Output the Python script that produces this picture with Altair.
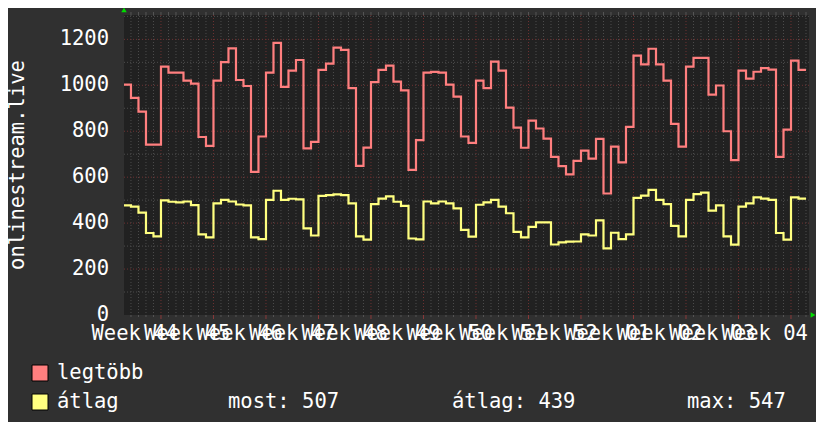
import altair as alt
import pandas as pd

# day index relative to Monday of ISO week 44 (one value per day)
first_day = -5
legtobb = [1003, 945, 885, 742, 742, 1081, 1055, 1055, 1020, 1007, 775, 736, 1020, 1101,
           1161, 1023, 997, 623, 777, 1055, 1185, 993, 1064, 1110, 725, 754, 1067, 1094,
           1164, 1154, 988, 649, 729, 1014, 1067, 1086, 1016, 978, 632, 761, 1055, 1058,
           1055, 1003, 951, 777, 749, 1020, 988, 1103, 1064, 903, 816, 728, 846, 812,
           768, 688, 648, 612, 671, 716, 681, 767, 529, 733, 664, 819, 1129, 1091,
           1159, 1091, 1020, 832, 733, 1081, 1119, 1119, 959, 999, 800, 674, 1064, 1029,
           1059, 1075, 1068, 688, 807, 1107, 1067]
atlag = [477, 472, 446, 357, 342, 499, 493, 490, 494, 478, 351, 338, 486, 501,
         494, 481, 477, 338, 330, 501, 541, 501, 506, 503, 377, 346, 519, 522,
         525, 522, 486, 342, 328, 483, 507, 516, 493, 475, 333, 329, 494, 486,
         494, 486, 464, 371, 341, 480, 490, 501, 472, 443, 362, 338, 384, 403,
         403, 307, 316, 319, 320, 351, 346, 412, 290, 358, 330, 351, 510, 520,
         545, 501, 483, 388, 342, 501, 526, 533, 454, 477, 342, 306, 472, 486,
         512, 507, 501, 357, 328, 512, 507]
week_labels = ["Week 44", "Week 45", "Week 46", "Week 47", "Week 48", "Week 49", "Week 50",
               "Week 51", "Week 52", "Week 01", "Week 02", "Week 03", "Week 04"]
y_ticks = [0, 200, 400, 600, 800, 1000, 1200]
legend_names = ["legtöbb", "átlag"]
legend_colors = ["#ff7f7f", "#ffff80"]
stat_texts = ["most: 507", "átlag: 439", "max: 547"]
y_title = "onlinestream.live"

FONT = "DejaVu Sans Mono"
FS = 20.5
TXT = "#ffffff"
XDOM = [-4.93, 86.4]
YDOM = [0, 1306]
xs = alt.Scale(domain=XDOM, nice=False, zero=False)
ys = alt.Scale(domain=YDOM, nice=False, zero=False)
ONE = pd.DataFrame({"a": [0]})


def series_df(vals):
    n = len(vals)
    d = list(range(first_day, first_day + n)) + [first_day + n]
    v = list(vals) + [vals[-1]]
    return pd.DataFrame({"day": d, "v": v})


ndays = len(legtobb)
last = first_day + ndays
minor_days = [d for d in range(first_day + 1, last + 1) if d % 7 != 0]
major_days = [d for d in range(0, last + 1, 7)]
minor_h = [v for v in range(100, 1400, 200)]
major_h = [v for v in range(200, 1300, 200)]

grid_minor_v = alt.Chart(pd.DataFrame({"day": minor_days})).mark_rule(
    color="#4c4c4c", strokeDash=[1, 2], strokeWidth=1
).encode(x=alt.X("day:Q", scale=xs, axis=None))
grid_major_v = alt.Chart(pd.DataFrame({"day": major_days})).mark_rule(
    color="#6e3232", strokeDash=[1, 2], strokeWidth=1
).encode(x=alt.X("day:Q", scale=xs, axis=None))
grid_minor_h = alt.Chart(pd.DataFrame({"v": minor_h})).mark_rule(
    color="#4c4c4c", strokeDash=[1, 2], strokeWidth=1
).encode(y=alt.Y("v:Q", scale=ys, axis=None))
grid_major_h = alt.Chart(pd.DataFrame({"v": major_h})).mark_rule(
    color="#6e3232", strokeDash=[1, 2], strokeWidth=1
).encode(y=alt.Y("v:Q", scale=ys, axis=None))

tick_top = alt.Chart(pd.DataFrame({"day": minor_days + major_days})).mark_rule(
    color="#555555", strokeWidth=1
).encode(x=alt.X("day:Q", scale=xs, axis=None), y=alt.value(-3), y2=alt.value(0))
tick_bot_minor = alt.Chart(pd.DataFrame({"day": minor_days})).mark_rule(
    color="#555555", strokeWidth=1
).encode(x=alt.X("day:Q", scale=xs, axis=None), y=alt.value(300), y2=alt.value(302))
tick_bot_major = alt.Chart(pd.DataFrame({"day": major_days})).mark_rule(
    color="#8a3a3a", strokeWidth=1
).encode(x=alt.X("day:Q", scale=xs, axis=None), y=alt.value(300), y2=alt.value(304))

line_red = alt.Chart(series_df(legtobb)).mark_line(
    color=legend_colors[0], strokeWidth=2.2, interpolate="step-after", clip=True
).encode(x=alt.X("day:Q", scale=xs, axis=None), y=alt.Y("v:Q", scale=ys, axis=None))
line_yel = alt.Chart(series_df(atlag)).mark_line(
    color=legend_colors[1], strokeWidth=2.2, interpolate="step-after", clip=True
).encode(x=alt.X("day:Q", scale=xs, axis=None), y=alt.Y("v:Q", scale=ys, axis=None))

ylab = alt.Chart(pd.DataFrame({"v": y_ticks, "t": [str(v) for v in y_ticks]})).mark_text(
    font=FONT, fontSize=FS, color=TXT, align="right", baseline="middle"
).encode(y=alt.Y("v:Q", scale=ys, axis=None), x=alt.value(-15), text="t:N")

xlab = alt.Chart(pd.DataFrame({"day": [-3.5 + 7 * k for k in range(len(week_labels))],
                               "t": week_labels})).mark_text(
    font=FONT, fontSize=FS, color=TXT, align="center", baseline="alphabetic"
).encode(x=alt.X("day:Q", scale=xs, axis=None), y=alt.value(325), text="t:N")

ytitle = alt.Chart(pd.DataFrame({"t": [y_title]})).mark_text(
    font=FONT, fontSize=FS, color=TXT, align="center", baseline="alphabetic", angle=270
).encode(x=alt.value(-100), y=alt.value(150), text="t:N")

arrow_up = alt.Chart(ONE).mark_point(
    shape="triangle-up", filled=True, color="#00dd00", size=30, opacity=1
).encode(x=alt.value(0), y=alt.value(-5))
arrow_right = alt.Chart(ONE).mark_point(
    shape="triangle-right", filled=True, color="#00dd00", size=30, opacity=1
).encode(x=alt.value(689), y=alt.value(300))

leg_layers = []
for i, (name, col) in enumerate(zip(legend_names, legend_colors)):
    leg_layers.append(
        alt.Chart(ONE).mark_square(size=256, stroke="#000000", strokeWidth=1,
                                   fill=col, opacity=1)
        .encode(x=alt.value(-84), y=alt.value(358 + 29 * i))
    )
    leg_layers.append(
        alt.Chart(pd.DataFrame({"t": [name]})).mark_text(
            font=FONT, fontSize=FS, color=TXT, align="left", baseline="alphabetic"
        ).encode(x=alt.value(-67), y=alt.value(364 + 29 * i), text="t:N")
    )

stat_x = [104, 328, 563]
for t, sx in zip(stat_texts, stat_x):
    leg_layers.append(
        alt.Chart(pd.DataFrame({"t": [t]})).mark_text(
            font=FONT, fontSize=FS, color=TXT, align="left", baseline="alphabetic"
        ).encode(x=alt.value(sx), y=alt.value(393), text="t:N")
    )

chart = alt.layer(
    grid_minor_v, grid_minor_h, grid_major_v, grid_major_h,
    tick_top, tick_bot_minor, tick_bot_major,
    line_yel, line_red,
    ylab, xlab, ytitle, arrow_up, arrow_right, *leg_layers,
).properties(
    width=685, height=300,
    padding={"left": 116, "top": 7, "right": 7, "bottom": 107},
    autosize=alt.AutoSizeParams(type="none"),
    background="#303030",
).configure_view(fill="#212121", stroke=None)

chart.save("out.html", embed_options={"renderer": "svg", "actions": False})
